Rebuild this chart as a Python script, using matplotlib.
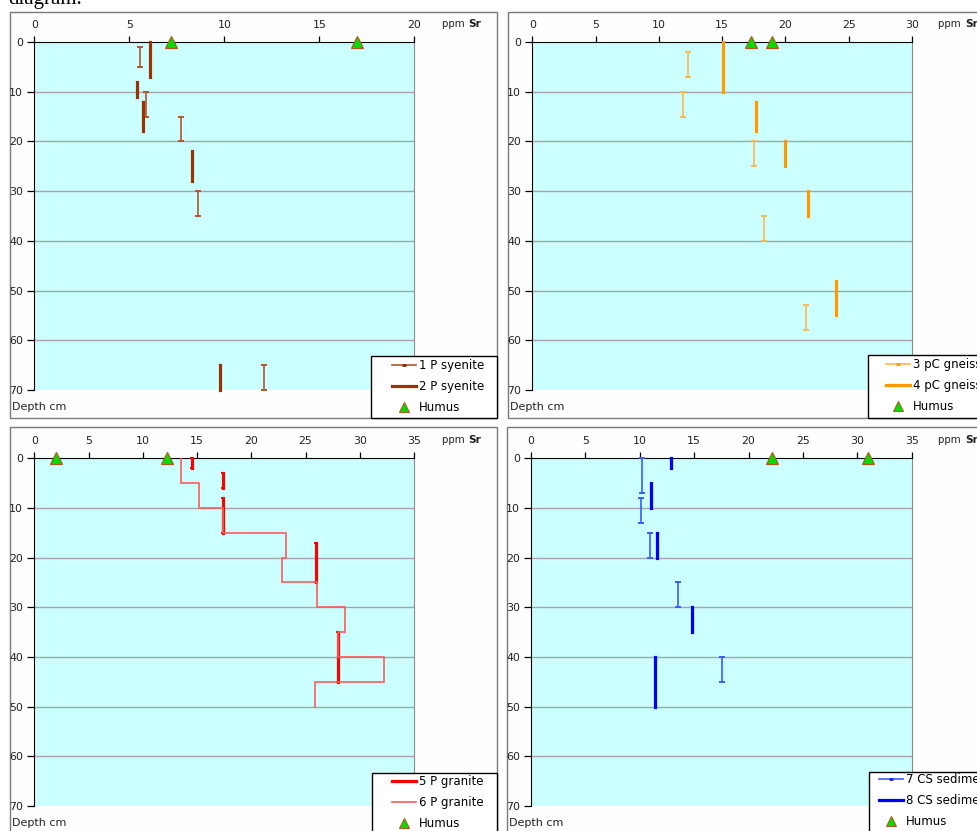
import matplotlib
matplotlib.use("Agg")
import matplotlib.pyplot as plt
from matplotlib.patches import Rectangle
from matplotlib.lines import Line2D

plt.rcParams['font.family'] = ['DejaVu Sans']

# ---- data: depth intervals (cm) and Sr concentrations (ppm) ----
syenite1_top = [1, 10, 15, 30, 65]
syenite1_bot = [5, 15, 20, 35, 70]
syenite1_val = [5.55, 5.9, 7.7, 8.6, 12.1]
syenite2_top = [0, 8, 12, 22, 65]
syenite2_bot = [7, 11, 18, 28, 70]
syenite2_val = [6.1, 5.4, 5.7, 8.3, 9.8]
humus_syenite = [7.2, 17.0]

gneiss3_top = [2, 10, 20, 35, 53]
gneiss3_bot = [7, 15, 25, 40, 58]
gneiss3_val = [12.3, 11.9, 17.5, 18.3, 21.6]
gneiss4_top = [0, 12, 20, 30, 48]
gneiss4_bot = [10, 18, 25, 35, 55]
gneiss4_val = [15.05, 17.7, 20.0, 21.75, 24.0]
humus_gneiss = [17.25, 18.9]

granite5_top = [0, 3, 8, 17, 35]
granite5_bot = [2, 6, 15, 25, 45]
granite5_val = [14.5, 17.4, 17.4, 26.0, 28.0]
granite6_top = [0, 5, 10, 15, 20, 25, 30, 35, 40, 45]
granite6_bot = [5, 10, 15, 20, 25, 30, 35, 40, 45, 50]
granite6_val = [13.5, 15.2, 17.4, 23.2, 22.8, 26.1, 28.6, 27.95, 32.2, 25.9]
humus_granite = [2.0, 12.2]

sed7_top = [0, 8, 15, 25, 40]
sed7_bot = [7, 13, 20, 30, 45]
sed7_val = [10.2, 10.1, 10.9, 13.5, 17.6]
sed8_top = [0, 5, 15, 30, 40]
sed8_bot = [2, 10, 20, 35, 50]
sed8_val = [12.9, 11.0, 11.6, 14.8, 11.4]
humus_sed = [22.2, 31.0]

depth_ticks = [0, 10, 20, 30, 40, 50, 60, 70]

W, H = 978, 831
fig = plt.figure(figsize=(W / 100, H / 100), dpi=100)
fig.patch.set_facecolor('white')

HUMUS_FC = '#00E000'
HUMUS_EC = '#B05A20'
FS = 7.9


def px_rect(x0, y0, x1, y1):
    return [x0 / W, 1 - y1 / H, (x1 - x0) / W, (y1 - y0) / H]


def panel(frame, box, xmax, series, humus, legend_box, legend_rows,
          handle_x):
    fx0, fy0, fx1, fy1 = frame
    fig.add_artist(Rectangle((fx0 / W, 1 - fy1 / H), (fx1 - fx0) / W,
                             (fy1 - fy0) / H, transform=fig.transFigure,
                             fc='#FEFEFE', ec='#7A7A7A', lw=1.0, zorder=-2))
    ax = fig.add_axes(px_rect(*box))
    ax.set_facecolor('#CCFFFF')
    ax.set_xlim(0, xmax)
    ax.set_ylim(70, 0)
    ax.set_xticks(range(0, xmax + 1, 5))
    ax.set_yticks(depth_ticks)
    ax.xaxis.tick_top()
    ax.tick_params(axis='x', direction='out', length=4, width=0.9,
                   pad=5, labelsize=FS, colors='black', labelcolor='#222222')
    ax.tick_params(axis='y', direction='out', length=5, width=0.9,
                   pad=3, labelsize=FS, labelcolor='#222222')
    ax.spines['bottom'].set_visible(False)
    ax.spines['top'].set_color('black')
    ax.spines['left'].set_color('black')
    ax.spines['right'].set_color('#8A8A8A')
    for d in depth_ticks[1:-1]:
        ax.axhline(d, color='#A4A4A4', lw=1.0, zorder=1)

    for s in series:
        if s['kind'] == 'step':
            xs, ys = [], []
            for t, b, v in zip(s['top'], s['bot'], s['val']):
                xs += [v, v]
                ys += [t, b]
            ax.plot(xs, ys, color=s['color'], lw=s['lw'], zorder=3,
                    solid_joinstyle='miter')
        else:
            for t, b, v in zip(s['top'], s['bot'], s['val']):
                ax.plot([v, v], [t, b], color=s['color'], lw=s['lw'],
                        marker=s.get('marker', 'None'),
                        markersize=s.get('ms', 0), markeredgewidth=1.4,
                        zorder=3, clip_on=False)

    ax.plot(humus, [0] * len(humus), linestyle='None', marker='^',
            markersize=9, mfc=HUMUS_FC, mec=HUMUS_EC, mew=0.9,
            zorder=5, clip_on=False)

    # legend box
    lx0, ly0, lx1, ly1 = legend_box
    fig.add_artist(Rectangle((lx0 / W, 1 - ly1 / H), (lx1 - lx0) / W,
                             (ly1 - ly0) / H, transform=fig.transFigure,
                             fc='white', ec='black', lw=1.0, zorder=5))
    handles = []
    labels = []
    for s in series:
        if s['kind'] == 'cap':
            h = Line2D([], [], color=s['color'], lw=s['lw'], marker='_',
                       markersize=3.5, markeredgewidth=2.0, mec=s['mec'])
        else:
            h = Line2D([], [], color=s['color'], lw=s['lw'])
        handles.append(h)
        labels.append(s['label'])
    handles.append(Line2D([], [], linestyle='None', marker='^', markersize=7,
                          mfc=HUMUS_FC, mec=HUMUS_EC, mew=0.8))
    labels.append('Humus')
    leg = fig.legend(handles, labels, loc='upper left',
                     bbox_to_anchor=(handle_x / W, 1 - (legend_rows[0] - 8) / H),
                     frameon=False, fontsize=FS + 0.6, handlelength=2.0,
                     handletextpad=0.25, labelspacing=0.68, borderpad=0,
                     borderaxespad=0)
    leg.set_zorder(6)
    return ax


def labels_for(frame_left, axis_top, axis_bottom, ppm_x):
    fig.text((frame_left + 2) / W, 1 - (axis_bottom + 17) / H, 'Depth cm',
             fontsize=FS + 0.1, va='center', ha='left', color='#222222')
    fig.text(ppm_x / W, 1 - (axis_top - 18) / H, 'ppm ', fontsize=FS - 0.5,
             va='center', ha='left', color='#222222')
    fig.text((ppm_x + 27) / W, 1 - (axis_top - 18) / H, 'Sr', fontsize=FS - 0.2,
             va='center', ha='left', fontweight='bold', color='#222222')


c1, c2 = '#B8542A', '#993300'
panel((10, 12, 497, 418), (34.3, 42, 414.3, 390), 20,
      [dict(kind='cap', top=syenite1_top, bot=syenite1_bot, val=syenite1_val,
            color=c1, lw=1.2, marker='_', ms=4.5, mec='#8A2A0A',
            label='1 P syenite'),
       dict(kind='bar', top=syenite2_top, bot=syenite2_bot, val=syenite2_val,
            color=c2, lw=2.3, label='2 P syenite')],
      humus_syenite, (371, 356, 497, 418), (367, 387, 407), 392)
labels_for(10, 42, 390, 441.7)

c3, c4 = '#FFB84D', '#FF9900'
panel((508, 12, 1000, 418), (532.3, 42, 912, 390), 30,
      [dict(kind='cap', top=gneiss3_top, bot=gneiss3_bot, val=gneiss3_val,
            color=c3, lw=1.2, marker='_', ms=4.5, mec='#FF9900',
            label='3 pC gneiss'),
       dict(kind='bar', top=gneiss4_top, bot=gneiss4_bot, val=gneiss4_val,
            color=c4, lw=2.3, label='4 pC gneiss')],
      humus_gneiss, (868.3, 354.5, 1000, 418), (366, 386, 406), 886)
labels_for(508, 42, 390, 938.3)

c5, c6 = '#FF0000', '#FF5A5A'
panel((10, 427, 497, 840), (34.3, 458.3, 414, 806), 35,
      [dict(kind='bar', top=granite5_top, bot=granite5_bot, val=granite5_val,
            color=c5, lw=2.3, marker='_', ms=2.5, label='5 P granite'),
       dict(kind='step', top=granite6_top, bot=granite6_bot, val=granite6_val,
            color=c6, lw=1.2, label='6 P granite')],
      humus_granite, (371.7, 772.7, 497, 840), (783, 803, 823), 392)
labels_for(10, 458.3, 806, 441.7)

c7, c8 = '#3A5CFF', '#0000FF'
panel((507.3, 427, 1000, 840), (531, 458.3, 911.7, 806), 35,
      [dict(kind='cap', top=sed7_top, bot=sed7_bot, val=sed7_val,
            color=c7, lw=1.2, marker='_', ms=4.5, mec='#1A2AD0',
            label='7 CS sediment'),
       dict(kind='bar', top=sed8_top, bot=sed8_bot, val=sed8_val,
            color=c8, lw=2.3, label='8 CS sediment')],
      humus_sed, (869.3, 771.7, 1000, 840), (781, 801.5, 822), 879.3)
labels_for(507.3, 458.3, 806, 938.3)

# tail of the caption line above the charts
fig.text(8 / W, 1 - 4 / H, 'diagram.', fontsize=15, family='Liberation Serif',
         va='baseline', ha='left', color='black')

fig.savefig('out.png', dpi=100)
